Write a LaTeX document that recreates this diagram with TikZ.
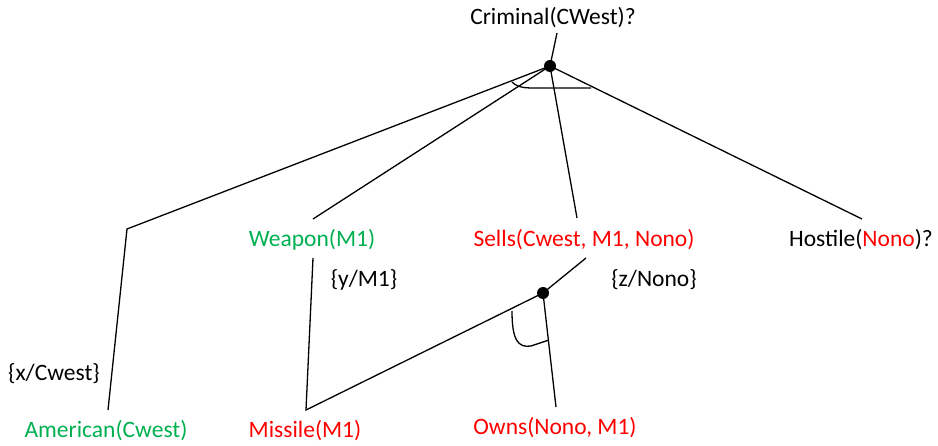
\documentclass[tikz,border=0pt]{standalone}
\usepackage{fontspec}
\setmainfont{Carlito}
\definecolor{goalgreen}{HTML}{00B050}
\definecolor{goalred}{HTML}{FF0000}
\begin{document}
\begin{tikzpicture}[x=1pt,y=-1pt,
  lbl/.style={inner sep=0pt, font=\fontsize{23.5}{28}\selectfont},
  edge/.style={line width=1.3pt, line join=miter},
  andarc/.style={line width=1.3pt},
  dot/.style={circle, fill=black, inner sep=0pt, minimum size=12pt}]
\useasboundingbox (0,0) rectangle (938,446);

% goal and subgoal labels
\node[lbl] (crim) at (553,18) {Criminal(CWest)?};
\node[lbl, text=goalgreen] (weap) at (312,240) {Weapon(M1)};
\node[lbl, text=goalred] (sells) at (584,240) {Sells(Cwest, M1, Nono)};
\node[lbl] (host) at (861,240) {Hostile(\textcolor{goalred}{Nono})?};
\node[lbl, text=goalgreen] (amer) at (106,431) {American(Cwest)};
\node[lbl, text=goalred] (miss) at (305,431) {Missile(M1)};
\node[lbl, text=goalred] (owns) at (555,428) {Owns(Nono, M1)};

% substitutions
\node[lbl] (subx) at (54,374) {\{x/Cwest\}};
\node[lbl] (suby) at (364,280) {\{y/M1\}};
\node[lbl] (subz) at (654,280) {\{z/Nono\}};

% and-nodes
\node[dot] (top) at (550,66) {};
\node[dot] (low) at (543,293) {};

% connector end points
\coordinate (crimS) at (557,33);
\coordinate (bend) at (127,229);
\coordinate (amerN) at (108,410);
\coordinate (weapN) at (313,219);
\coordinate (weapS) at (313,258);
\coordinate (sellsN) at (577,218);
\coordinate (sellsS) at (586,258);
\coordinate (hostN) at (862,219);
\coordinate (missN) at (306,410);
\coordinate (ownsN) at (556,407);

% top conjunction
\draw[edge] (crimS) -- (top.center);
\draw[edge] (top.center) -- (bend) -- (amerN);
\draw[edge] (top.center) -- (weapN);
\draw[edge] (top.center) -- (sellsN);
\draw[edge] (top.center) -- (hostN);
\draw[andarc] (512,82) .. controls (518,88) and (526,88) .. (536,88) -- (591,88);

% lower conjunction
\draw[edge] (sellsS) -- (low.center);
\draw[edge] (weapS) -- (missN) -- (low.center);
\draw[edge] (low.center) -- (ownsN);
\draw[andarc] (512,311) .. controls (512,340) and (518,348) .. (531,346) -- (549,340);
\end{tikzpicture}
\end{document}
